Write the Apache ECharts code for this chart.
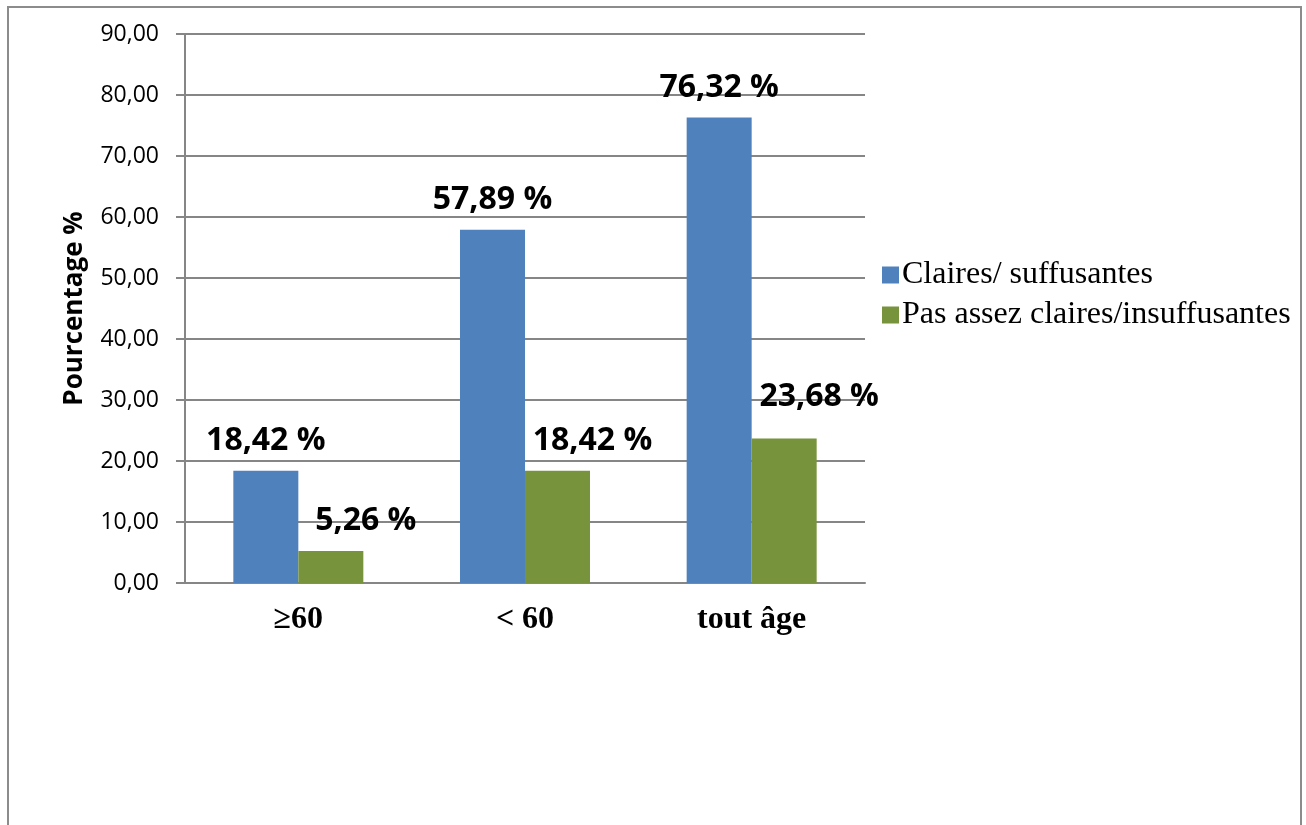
<!DOCTYPE html>
<html>
<head>
<meta charset="utf-8">
<script src="https://cdn.jsdelivr.net/npm/echarts@6/dist/echarts.min.js"></script>
<style>
  html, body { margin: 0; padding: 0; background: #fff; }
  #chart { width: 1306px; height: 825px; }
</style>
</head>
<body>
<div id="chart"></div>
<script>
// categories and values
const categories = ["≥60", "< 60", "tout âge"];
const claires = [18.42, 57.89, 76.32];
const pasClaires = [5.26, 18.42, 23.68];
const seriesNames = ["Claires/ suffusantes", "Pas assez claires/insuffusantes"];

const fmt = v => v.toFixed(2).replace(".", ",");

const chart = echarts.init(document.getElementById("chart"));

const labelStyle = {
  show: true,
  position: "top",
  distance: 14,
  fontFamily: "Open Sans",
  fontWeight: "bold",
  fontSize: 32,
  color: "#000",
  formatter: p => fmt(p.value) + " %",
};

const option = {
  animation: false,
  backgroundColor: "#fff",
  graphic: [
    {
      type: "rect",
      shape: { x: 8, y: 7, width: 1293, height: 840 },
      style: { fill: "none", stroke: "#8c8c8c", lineWidth: 2 },
      silent: true,
    },
  ],
  legend: {
    orient: "vertical",
    left: 877,
    top: 254,
    itemWidth: 17,
    itemHeight: 17,
    itemGap: 8,
    icon: "rect",
    textStyle: {
      fontFamily: "Liberation Serif",
      fontSize: 32,
      color: "#000",
      padding: [0, 0, 0, -2],
    },
    data: seriesNames,
  },
  grid: {
    left: 185,
    top: 34,
    width: 680,
    height: 549,
  },
  xAxis: {
    type: "category",
    data: categories,
    axisTick: { show: false },
    axisLine: { lineStyle: { color: "#868686", width: 2 } },
    axisLabel: {
      margin: 21,
      fontFamily: "Liberation Serif",
      fontWeight: "bold",
      fontSize: 32,
      color: "#000",
    },
  },
  yAxis: {
    type: "value",
    min: 0,
    max: 90,
    interval: 10,
    name: "Pourcentage %",
    nameLocation: "middle",
    nameRotate: 90,
    nameGap: 97,
    nameTextStyle: {
      fontFamily: "Open Sans",
      fontWeight: "bold",
      fontSize: 26,
      color: "#000",
    },
    axisLine: { show: true, lineStyle: { color: "#868686", width: 2 } },
    axisTick: { show: true, length: 9, lineStyle: { color: "#868686", width: 2 } },
    splitLine: { lineStyle: { color: "#868686", width: 2 } },
    axisLabel: {
      margin: 26,
      fontFamily: "Open Sans",
      fontSize: 23,
      color: "#000",
      formatter: v => fmt(v),
    },
  },
  series: [
    {
      name: seriesNames[0],
      type: "bar",
      barWidth: 65,
      barGap: 0,
      itemStyle: { color: "#4F81BD" },
      label: labelStyle,
      data: claires,
    },
    {
      name: seriesNames[1],
      type: "bar",
      barWidth: 65,
      barGap: 0,
      itemStyle: { color: "#77933C" },
      label: Object.assign({}, labelStyle, { offset: [35, 0] }),
      data: pasClaires.map((v, i) =>
        i === 2 ? { value: v, label: { offset: [35, -12] } } : v
      ),
    },
  ],
};

chart.setOption(option);
</script>
</body>
</html>
